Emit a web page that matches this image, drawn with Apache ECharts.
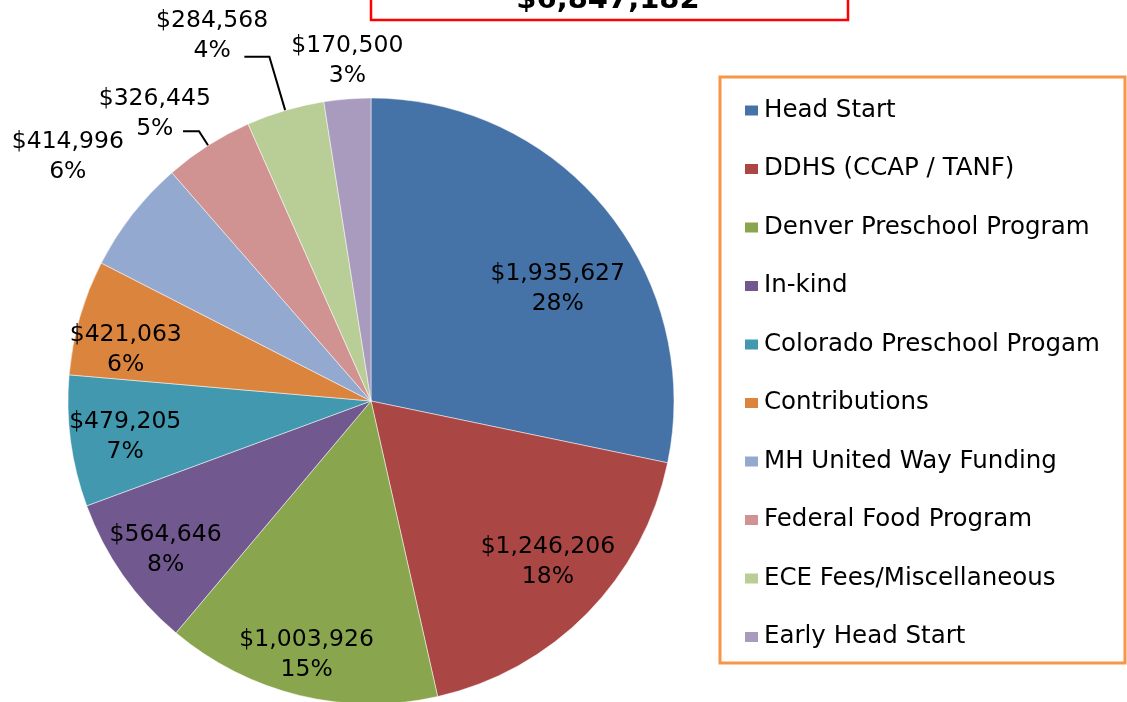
<!DOCTYPE html>
<html><head><meta charset="utf-8">
<script src="https://cdn.jsdelivr.net/npm/echarts@6/dist/echarts.min.js"></script>
<style>html,body{margin:0;padding:0;background:#fff}#c{width:1127px;height:702px}</style>
</head><body><div id="c"></div>
<script>
// ---- data ----
const categories = ['Head Start','DDHS (CCAP / TANF)','Denver Preschool Program','In-kind','Colorado Preschool Progam','Contributions','MH United Way Funding','Federal Food Program','ECE Fees/Miscellaneous','Early Head Start'];
const amounts = [1935627,1246206,1003926,564646,479205,421063,414996,326445,284568,170500];
const totalLabel = '$6,847,182';
const innerLabelled = ['Head Start','DDHS (CCAP / TANF)','Denver Preschool Program','In-kind','Colorado Preschool Progam','Contributions'];
const outerLabelled = ['MH United Way Funding','Federal Food Program','ECE Fees/Miscellaneous','Early Head Start'];
const leaderLined = ['Federal Food Program','ECE Fees/Miscellaneous'];

// ---- style ----
const colors = ['#4572A7','#AA4643','#89A54E','#71588F','#4198AF','#DB843D','#93A9CF','#D19392','#B9CD96','#A99BBD'];
const FONT = 'DejaVu Sans';
const CX = 371, CY = 401, R = 303;
const INNER_MID = 248, OUTER_MID = 364;
const nudge = {
  'Head Start':[-8,46], 'DDHS (CCAP / TANF)':[-2,-15], 'Denver Preschool Program':[-5,10], 'In-kind':[0,5],
  'Colorado Preschool Progam':[3,3], 'Contributions':[-4,18],
  'MH United Way Funding':[-14,-18], 'Federal Food Program':[-19,22], 'ECE Fees/Miscellaneous':[-55,-13], 'Early Head Start':[5,26]
};
const leaderLen = {'Federal Food Program':[17,16], 'ECE Fees/Miscellaneous':[56,25]};

const money = v => '$' + v.toLocaleString('en-US');

function labelSeries(mid, shown) {
  return {
    type:'pie', center:[CX,CY], radius:[0, mid*2], startAngle:90, clockwise:true,
    silent:true, percentPrecision:0, avoidLabelOverlap:false,
    emphasis:{disabled:true}, tooltip:{show:false},
    itemStyle:{color:'rgba(0,0,0,0)', borderWidth:0},
    label:{show:true, position:'inside', color:'#000', fontFamily:FONT, fontSize:23.5, lineHeight:30,
      formatter: p => money(p.value) + '\n' + p.percent + '%'},
    labelLine:{show:false},
    labelLayout: p => { const n = categories[p.dataIndex]; const d = nudge[n]; return d ? {dx:d[0], dy:d[1]} : {}; },
    data: categories.map((n,i)=>({name:n, value:amounts[i], label:{show: shown.includes(n)}}))
  };
}

const chart = echarts.init(document.getElementById('c'), null, {renderer:'canvas'});
chart.setOption({
  animation:false,
  backgroundColor:'#fff',
  legend:{
    orient:'vertical', left:743, top:98, padding:0, itemWidth:15, itemHeight:12, itemGap:33.5, icon:'rect',
    selectedMode:false,
    textStyle:{fontSize:24.5, fontFamily:FONT, color:'#000'},
    data: categories
  },
  graphic:[
    {type:'rect', z:0, shape:{x:720,y:77,width:405,height:586}, style:{fill:'none', stroke:'#F79646', lineWidth:3}},
    {type:'rect', z:0, shape:{x:371,y:-20,width:477,height:40}, style:{fill:'#fff', stroke:'#FF0000', lineWidth:2.5}},
    {type:'text', z:1, x:608, y:0, style:{text:totalLabel, font:'bold 29px "DejaVu Sans"', fill:'#000', align:'center', verticalAlign:'middle'}}
  ],
  series:[
    {
      type:'pie', name:'main', center:[CX,CY], radius:R, startAngle:90, clockwise:true,
      avoidLabelOverlap:false, silent:true, emphasis:{disabled:true},
      itemStyle:{borderColor:'#fff', borderWidth:0.5},
      label:{show:false},
      labelLine:{show:false, lineStyle:{color:'#000', width:2}},
      data: categories.map((n,i)=>{
        const item = {name:n, value:amounts[i], itemStyle:{color:colors[i]}};
        if (leaderLined.includes(n)) {
          item.label = {show:true, position:'outside', color:'rgba(0,0,0,0)', formatter:'.'};
          item.labelLine = {show:true, length:leaderLen[n][0], length2:leaderLen[n][1]};
        }
        return item;
      })
    },
    labelSeries(INNER_MID, innerLabelled),
    labelSeries(OUTER_MID, outerLabelled)
  ]
});
</script></body></html>
